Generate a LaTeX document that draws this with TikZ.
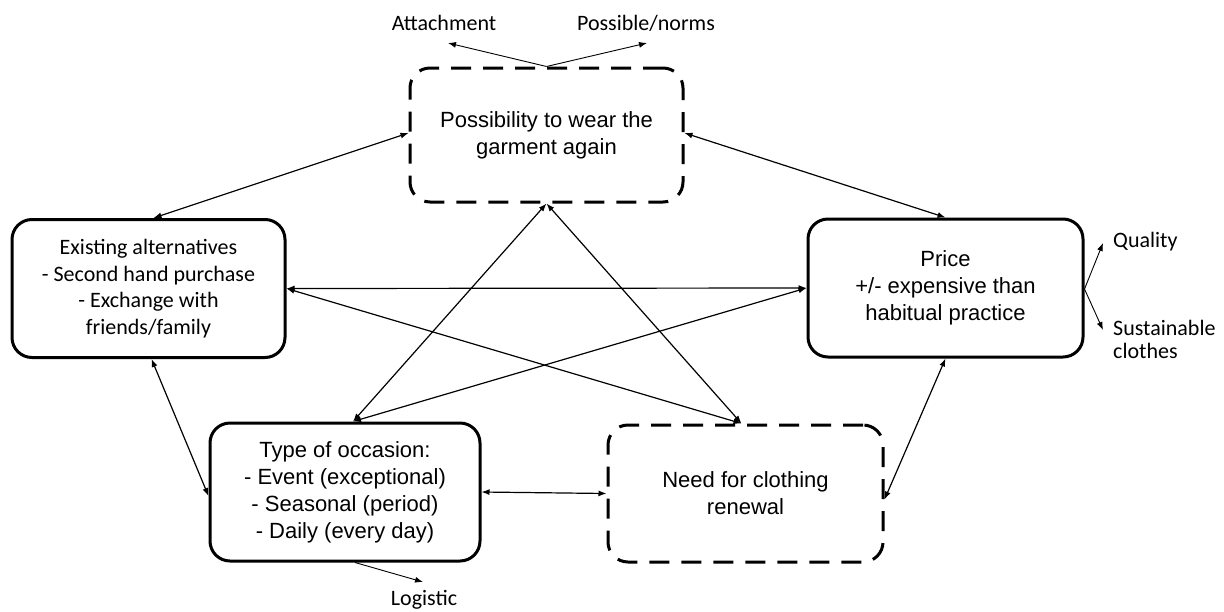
\documentclass[tikz,border=0pt]{standalone}
\usepackage{fontspec}
\setmainfont{Liberation Sans}
\newfontfamily\calib{Carlito}
\usetikzlibrary{arrows.meta,calc}
\begin{document}
\begin{tikzpicture}[x=1pt,y=-1pt,
 box/.style={draw,line width=3pt,rounded corners=20pt,align=center,inner sep=0pt,font=\fontsize{22}{27}\selectfont},
 dbox/.style={box,dash pattern=on 20pt off 12pt},
 link/.style={line width=1.2pt,{Latex[length=8pt,width=6pt]}-{Latex[length=8pt,width=6pt]}},
 side/.style={line width=0.9pt,-{Latex[length=8pt,width=6pt]}},
 lbl/.style={font=\calib\fontsize{22}{23}\selectfont,inner sep=0pt,align=left}]
\useasboundingbox (0,0) rectangle (1224,611);
% boxes
\node[dbox,minimum width=273pt,minimum height=134pt] (poss) at (546.5,135) {Possibility to wear the\\garment again};
\node[box,font=\calib\fontsize{22}{26.5}\selectfont,minimum width=273pt,minimum height=138pt] (exist) at (148.5,288.5) {Existing alternatives\\- Second hand purchase\\- Exchange with\\friends/family};
\node[box,minimum width=275pt,minimum height=138pt] (price) at (945.5,288) {Price\\+/- expensive than\\habitual practice};
\node[box,minimum width=270pt,minimum height=138pt] (type) at (345,492) {Type of occasion:\\- Event (exceptional)\\- Seasonal (period)\\- Daily (every day)};
\node[dbox,minimum width=275pt,minimum height=137pt] (need) at (745.5,493.5) {Need for clothing\\renewal};
% side labels
\node[lbl] (att) at (444,23) {Attachment};
\node[lbl] (norms) at (646,23) {Possible/norms};
\node[lbl,anchor=west] (qual) at (1113,242) {Quality};
\node[lbl,anchor=west] (sust) at (1113,339) {Sustainable\\clothes};
\node[lbl] (logi) at (424,600) {Logistic};
\coordinate (attT) at (448,43);
\coordinate (normsT) at (647,43);
\coordinate (qualT) at (1103,243);
\coordinate (sustT) at (1103,330);
\coordinate (logiT) at (423,582);
\draw[side] (poss.north) -- (attT);
\draw[side] (poss.north) -- (normsT);
\draw[side] ([yshift=-1pt]price.east) -- (qualT);
\draw[side] ([yshift=-1pt]price.east) -- (sustT);
\draw[side] ([xshift=10pt]type.south) -- (logiT);
% links
\draw[link] ([xshift=5pt]exist.north) -- ([yshift=2pt]poss.west);
\draw[link] ([yshift=2pt]poss.east) -- (price.north);
\draw[link] (exist.east) -- (price.west);
\draw[link] ([xshift=3pt]exist.south) -- ([yshift=-4pt]type.west);
\draw[link] (type.east) -- (need.west);
\draw[link] (price.south) -- ([yshift=-6pt]need.east);
\draw[link] (poss.south) -- ([xshift=8pt]type.north);
\draw[link] (poss.south) -- ([xshift=-4pt]need.north);
\draw[link] (exist.east) -- ([xshift=-4pt]need.north);
\draw[link] (price.west) -- ([xshift=8pt]type.north);
\end{tikzpicture}
\end{document}
